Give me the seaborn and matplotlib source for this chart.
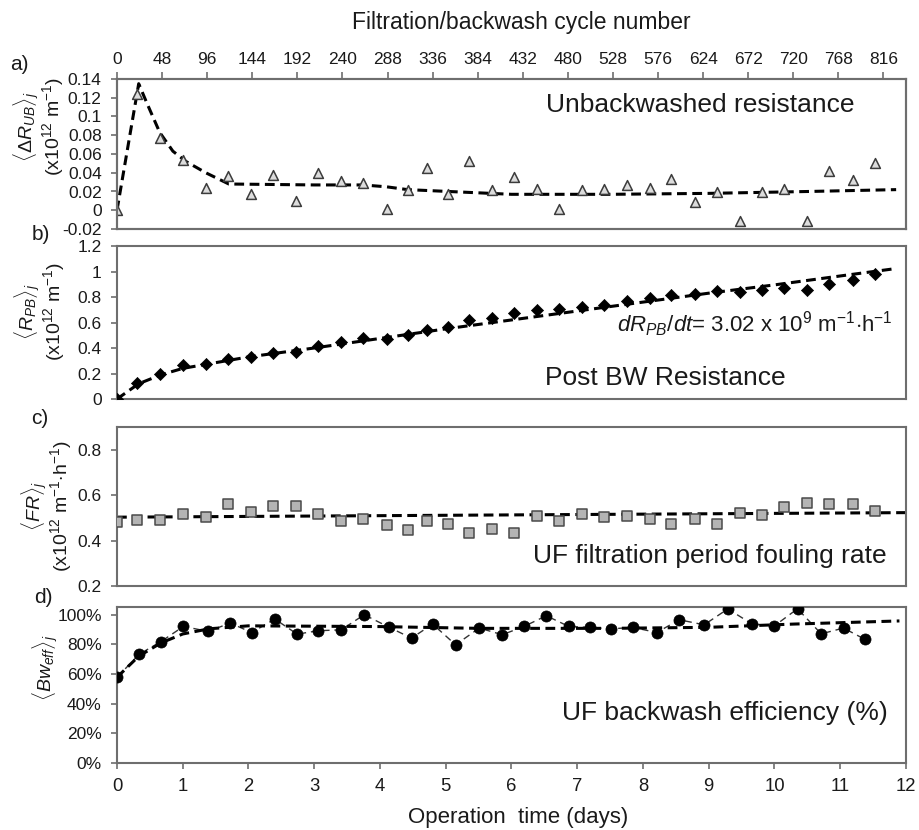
import matplotlib
matplotlib.use("Agg")
import matplotlib.pyplot as plt
import seaborn as sns
import pandas as pd

# ---------------- data ----------------
# operation time (days) of each filtration/backwash sample
days_abc = [0.00, 0.31, 0.65, 1.00, 1.36, 1.69, 2.04, 2.37, 2.73, 3.05, 3.40, 3.74,
            4.10, 4.42, 4.72, 5.03, 5.35, 5.70, 6.04, 6.39, 6.73, 7.07, 7.41, 7.76,
            8.11, 8.43, 8.79, 9.12, 9.48, 9.81, 10.15, 10.49, 10.83, 11.19, 11.53]
days_d = [0.00, 0.34, 0.67, 1.01, 1.39, 1.72, 2.05, 2.40, 2.74, 3.06, 3.41, 3.76,
          4.13, 4.48, 4.80, 5.15, 5.51, 5.86, 6.19, 6.53, 6.87, 7.19, 7.52, 7.85,
          8.21, 8.55, 8.93, 9.29, 9.66, 10.00, 10.35, 10.71, 11.05, 11.37]

# a) unbackwashed resistance (x1e12 m-1)
r_ub = [0.000, 0.124, 0.077, 0.054, 0.024, 0.036, 0.017, 0.038, 0.010, 0.040, 0.031, 0.029,
        0.001, 0.022, 0.045, 0.017, 0.052, 0.022, 0.035, 0.023, 0.001, 0.022, 0.023, 0.027,
        0.024, 0.033, 0.009, 0.019, -0.0115, 0.019, 0.023, -0.0115, 0.042, 0.032, 0.050]
r_ub_trend_x = [0.00, 0.33, 0.45, 0.65, 0.85, 1.05, 1.35, 1.70, 3.00, 3.74, 4.10, 4.42,
                5.05, 6.00, 7.50, 9.00, 10.50, 11.85]
r_ub_trend_y = [0.000, 0.135, 0.115, 0.083, 0.063, 0.052, 0.040, 0.028, 0.027, 0.027, 0.025,
                0.022, 0.020, 0.017, 0.017, 0.018, 0.020, 0.022]

# b) post-backwash resistance (x1e12 m-1)
r_pb = [0.000, 0.123, 0.196, 0.266, 0.274, 0.313, 0.331, 0.362, 0.370, 0.415, 0.448, 0.475,
        0.469, 0.500, 0.545, 0.561, 0.618, 0.639, 0.675, 0.696, 0.704, 0.722, 0.735, 0.769,
        0.796, 0.814, 0.827, 0.845, 0.840, 0.853, 0.874, 0.858, 0.900, 0.931, 0.984]
r_pb_trend_x = [0.00, 0.33, 0.67, 1.00, 1.50, 2.00, 3.00, 4.00, 5.00, 6.00, 7.00, 8.00,
                9.00, 10.00, 11.00, 11.80]
r_pb_trend_y = [0.000, 0.120, 0.190, 0.240, 0.285, 0.330, 0.400, 0.475, 0.550, 0.620, 0.690,
                0.760, 0.830, 0.895, 0.965, 1.020]

# c) filtration period fouling rate (x1e12 m-1 h-1)
fr = [0.481, 0.492, 0.489, 0.518, 0.503, 0.562, 0.525, 0.551, 0.554, 0.518, 0.486, 0.496,
      0.467, 0.448, 0.486, 0.471, 0.433, 0.452, 0.433, 0.508, 0.486, 0.518, 0.503, 0.508,
      0.496, 0.471, 0.493, 0.474, 0.521, 0.511, 0.547, 0.565, 0.562, 0.559, 0.529]
fr_trend_x = [0.0, 12.0]
fr_trend_y = [0.503, 0.523]

# d) backwash efficiency (fraction)
bw_eff = [0.578, 0.734, 0.819, 0.921, 0.887, 0.944, 0.880, 0.971, 0.869, 0.892, 0.898, 1.000,
          0.917, 0.842, 0.937, 0.797, 0.910, 0.865, 0.921, 0.993, 0.921, 0.914, 0.905, 0.914,
          0.880, 0.966, 0.932, 1.039, 0.937, 0.925, 1.040, 0.871, 0.910, 0.835]
bw_trend_x = [0.00, 0.33, 0.67, 1.00, 1.40, 2.00, 4.00, 5.50, 7.50, 9.00, 10.30, 11.90]
bw_trend_y = [0.578, 0.720, 0.810, 0.870, 0.905, 0.925, 0.920, 0.908, 0.908, 0.915, 0.937, 0.958]

# axis ticks and labels
cycle_ticks = [0, 48, 96, 144, 192, 240, 288, 336, 384, 432, 480, 528, 576, 624, 672, 720, 768, 816]
day_ticks = [0, 1, 2, 3, 4, 5, 6, 7, 8, 9, 10, 11, 12]
a_yticks = [0.14, 0.12, 0.10, 0.08, 0.06, 0.04, 0.02, 0.0, -0.02]
a_ylabels = ["0.14", "0.12", "0.1", "0.08", "0.06", "0.04", "0.02", "0", "-0.02"]
b_yticks = [0.0, 0.2, 0.4, 0.6, 0.8, 1.0, 1.2]
b_ylabels = ["0", "0.2", "0.4", "0.6", "0.8", "1", "1.2"]
c_yticks = [0.2, 0.4, 0.6, 0.8]
c_ylabels = ["0.2", "0.4", "0.6", "0.8"]
d_yticks = [0.0, 0.2, 0.4, 0.6, 0.8, 1.0]
d_ylabels = ["0%", "20%", "40%", "60%", "80%", "100%"]

# ---------------- style ----------------
sns.set_theme(style="white")
plt.rcParams["font.family"] = ["Liberation Sans", "DejaVu Sans"]
plt.rcParams["mathtext.fontset"] = "custom"
plt.rcParams["mathtext.rm"] = "Liberation Sans"
plt.rcParams["mathtext.it"] = "Liberation Sans:italic"
plt.rcParams["mathtext.bf"] = "Liberation Sans:bold"

W, H = 920, 830
fig = plt.figure(figsize=(W / 100, H / 100), dpi=100)
fig.patch.set_facecolor("white")

SPINE = "#6e6e6e"
TXT = "#1a1a1a"
TREND = dict(color="black", linewidth=2.2, linestyle=(0, (3.2, 1.8)))


def px_axes(top, bottom, left=117, right=906):
    return fig.add_axes([left / W, 1 - bottom / H, (right - left) / W, (bottom - top) / H])


def frame(ax):
    for s in ax.spines.values():
        s.set_visible(True)
        s.set_color(SPINE)
        s.set_linewidth(1.5)
    ax.set_xlim(0, 12)
    ax.tick_params(axis="y", direction="out", length=4, width=1.2, color=SPINE,
                   labelsize=12.5, labelcolor=TXT, pad=7, left=True)
    ax.set_xlabel("")
    ax.set_ylabel("")
    ax.grid(False)


def ftext(px, py, s, **kw):
    fig.text(px / W, 1 - py / H, s, color=TXT, **kw)


# ---------------- a) unbackwashed resistance ----------------
ax_a = px_axes(79, 229)
df_a = pd.DataFrame({"day": days_abc, "val": r_ub})
tr_a = pd.DataFrame({"day": r_ub_trend_x, "val": r_ub_trend_y})
sns.lineplot(data=tr_a, x="day", y="val", ax=ax_a, sort=False, estimator=None, zorder=2, **TREND)
sns.scatterplot(data=df_a, x="day", y="val", ax=ax_a, marker="^", s=50,
                color="#dcdcdc", edgecolor="#3c3c3c", linewidth=1.1, zorder=3)
frame(ax_a)
ax_a.set_ylim(-0.02, 0.14)
ax_a.set_yticks(a_yticks)
ax_a.set_yticklabels(a_ylabels)

ax_top = ax_a.twiny()
ax_top.set_xlim(0, 840)
ax_top.set_xticks(cycle_ticks)
ax_top.set_xticklabels([str(c) for c in cycle_ticks])
ax_top.tick_params(axis="x", direction="out", length=5, width=1.2, color=SPINE,
                   labelsize=12.5, labelcolor=TXT, pad=4, top=True, bottom=False)
for s in ax_top.spines.values():
    s.set_color(SPINE)
    s.set_linewidth(1.5)
ax_top.grid(False)
# the day axis of panel a carries no ticks of its own
ax_a.set_xticks([])

ftext(855, 112, "Unbackwashed resistance", ha="right", va="baseline", fontsize=19)

# ---------------- b) post-backwash resistance ----------------
ax_b = px_axes(246, 399)
df_b = pd.DataFrame({"day": days_abc, "val": r_pb})
tr_b = pd.DataFrame({"day": r_pb_trend_x, "val": r_pb_trend_y})
sns.lineplot(data=tr_b, x="day", y="val", ax=ax_b, sort=False, estimator=None, zorder=2, **TREND)
sns.scatterplot(data=df_b, x="day", y="val", ax=ax_b, marker="D", s=38,
                color="black", edgecolor="black", linewidth=0.5, zorder=3)
frame(ax_b)
ax_b.set_ylim(0, 1.2)
ax_b.set_yticks(b_yticks)
ax_b.set_yticklabels(b_ylabels)
ax_b.set_xticks([])

ftext(893, 332, r"$dR_{PB}/dt$= 3.02 x 10$^{9}$ m$^{-1}$$\cdot$h$^{-1}$",
      ha="right", va="baseline", fontsize=16)
ftext(786, 385, "Post BW Resistance", ha="right", va="baseline", fontsize=19)

# ---------------- c) fouling rate ----------------
ax_c = px_axes(427, 586)
df_c = pd.DataFrame({"day": days_abc, "val": fr})
tr_c = pd.DataFrame({"day": fr_trend_x, "val": fr_trend_y})
sns.lineplot(data=tr_c, x="day", y="val", ax=ax_c, sort=False, estimator=None, zorder=2, **TREND)
sns.scatterplot(data=df_c, x="day", y="val", ax=ax_c, marker="s", s=62,
                color="#b4b4b4", edgecolor="#4a4a4a", linewidth=1.1, zorder=3)
frame(ax_c)
ax_c.set_ylim(0.2, 0.9)
ax_c.set_yticks(c_yticks)
ax_c.set_yticklabels(c_ylabels)
ax_c.set_xticks([])

ftext(887, 563, "UF filtration period fouling rate", ha="right", va="baseline", fontsize=19)

# ---------------- d) backwash efficiency ----------------
ax_d = px_axes(607, 763)
df_d = pd.DataFrame({"day": days_d, "val": bw_eff})
tr_d = pd.DataFrame({"day": bw_trend_x, "val": bw_trend_y})
sns.lineplot(data=df_d, x="day", y="val", ax=ax_d, sort=False, estimator=None, zorder=1,
             color="#333333", linewidth=1.0, linestyle=(0, (5, 3.5)))
sns.lineplot(data=tr_d, x="day", y="val", ax=ax_d, sort=False, estimator=None, zorder=2, **TREND)
sns.scatterplot(data=df_d, x="day", y="val", ax=ax_d, marker="o", s=64,
                color="black", edgecolor="black", linewidth=0.5, zorder=3)
frame(ax_d)
ax_d.set_ylim(0, 1.052)
ax_d.set_yticks(d_yticks)
ax_d.set_yticklabels(d_ylabels)
ax_d.set_xticks(day_ticks)
ax_d.set_xticklabels([str(t) for t in day_ticks])
ax_d.tick_params(axis="x", direction="out", length=4, width=1.2, color=SPINE,
                 labelsize=13.3, labelcolor=TXT, pad=7, bottom=True, top=False)

ftext(888, 720, "UF backwash efficiency (%)", ha="right", va="baseline", fontsize=19)

# ---------------- axis titles and panel letters ----------------
ftext(521, 22, "Filtration/backwash cycle number", ha="center", va="center", fontsize=16.5)
ftext(518, 817, "Operation  time (days)", ha="center", va="center", fontsize=16)

ftext(39, 127, r"$\langle\Delta R_{UB}\rangle_j$" + "\n" + r"(x10$^{12}$ m$^{-1}$)",
      ha="center", va="center", rotation=90, fontsize=14, linespacing=0.95,
      multialignment="center")
ftext(40, 312, r"$\langle R_{PB}\rangle_j$" + "\n" + r"(x10$^{12}$ m$^{-1}$)",
      ha="center", va="center", rotation=90, fontsize=14, linespacing=0.95,
      multialignment="center")
ftext(47, 506, r"$\langle FR\rangle_j$" + "\n" + r"(x10$^{12}$ m$^{-1}$$\cdot$h$^{-1}$)",
      ha="center", va="center", rotation=90, fontsize=14, linespacing=0.95,
      multialignment="center")
ftext(45, 668, r"$\langle Bw_{eff}\rangle_j$", ha="center", va="center", rotation=90,
      fontsize=14)

for lx, ly, lab in [(19, 64, "a)"), (41, 235, "b)"), (40, 418, "c)"), (43, 597, "d)")]:
    ftext(lx, ly, lab, ha="center", va="center", fontsize=15)

fig.savefig("out.png", dpi=100, facecolor="white")
